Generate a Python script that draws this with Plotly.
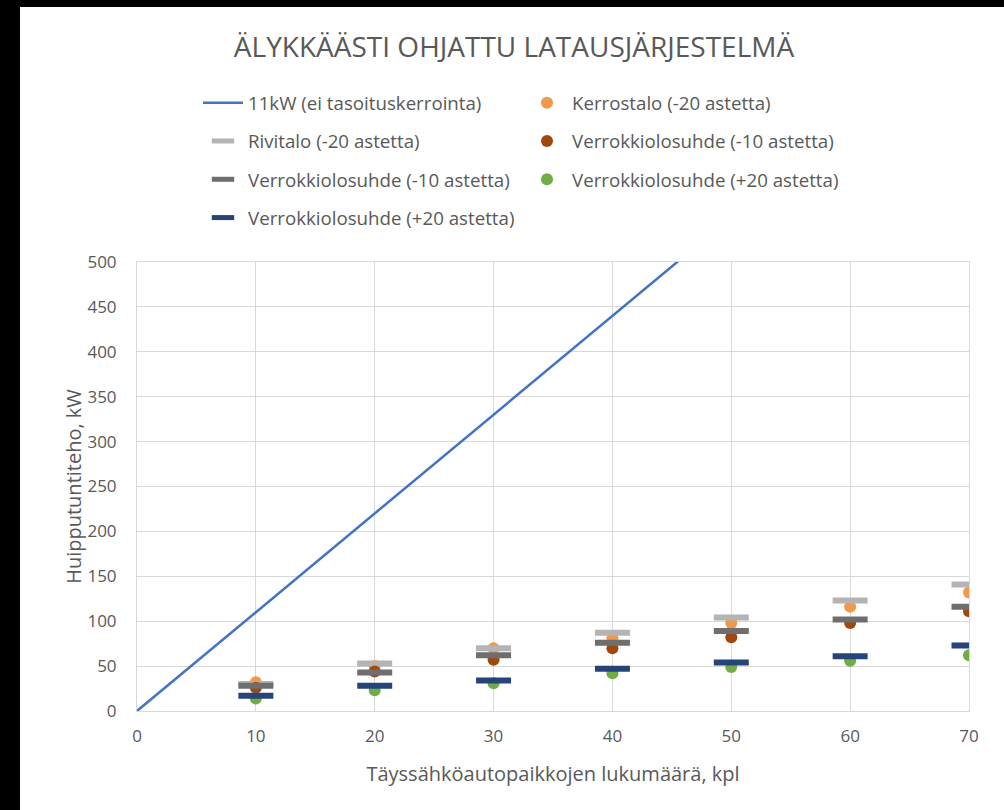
import plotly.graph_objects as go

# ---- data ----
x_line = [0, 10, 20, 30, 40, 50, 60, 70]
y_line_11kw = [0, 110, 220, 330, 440, 550, 660, 770]

x_cars = [10, 20, 30, 40, 50, 60, 70]
kerrostalo_m20 = [32, 50, 70, 81, 98, 116, 132]
rivitalo_m20 = [30, 53, 70, 87, 104, 123, 141]
verrokki_m10_dot = [26, 44, 57, 70, 82, 98, 111]
verrokki_m10_dash = [28, 43, 62, 76, 89, 102, 116]
verrokki_p20_dot = [14, 23, 31, 42, 49, 56, 62]
verrokki_p20_dash = [17, 28, 34, 47, 54, 61, 73]

names = {
    "line": "11kW (ei tasoituskerrointa)",
    "kerros": "Kerrostalo (-20 astetta)",
    "rivi": "Rivitalo (-20 astetta)",
    "v10": "Verrokkiolosuhde (-10 astetta)",
    "v20": "Verrokkiolosuhde (+20 astetta)",
}

TXT = "#595959"
GRID = "#D9D9D9"
FONT = "Open Sans"

fig = go.Figure()

fig.add_trace(go.Scatter(x=x_line, y=y_line_11kw, mode="lines", name=names["line"],
                         line=dict(color="#4472C4", width=2.5),
                         legend="legend", legendgroup="g1"))

def dot(x, y, name, color, grp):
    return go.Scatter(x=x, y=y, mode="markers", name=name,
                      marker=dict(symbol="circle", size=12, color=color),
                      legend="legend2", legendgroup=grp)

def dash(x, y, name, color, grp):
    return go.Scatter(x=x, y=y, mode="markers", name=name,
                      marker=dict(symbol="line-ew", size=25, color=color,
                                  line=dict(color=color, width=6)),
                      legend="legend", legendgroup=grp)

fig.add_trace(dot(x_cars, kerrostalo_m20, names["kerros"], "#F0994A", "h1"))
fig.add_trace(dash(x_cars, rivitalo_m20, names["rivi"], "#B4B4B4", "g2"))
fig.add_trace(dot(x_cars, verrokki_m10_dot, names["v10"], "#9E480E", "h2"))
fig.add_trace(dash(x_cars, verrokki_m10_dash, names["v10"], "#6E6E6E", "g3"))
fig.add_trace(dot(x_cars, verrokki_p20_dot, names["v20"], "#70AD47", "h3"))
fig.add_trace(dash(x_cars, verrokki_p20_dash, names["v20"], "#264478", "g4"))

W, H = 1004, 810
ML, MR, MT, MB = 137, 35, 262, 99
pw, ph = W - ML - MR, H - MT - MB

def px2x(p):
    return (p - ML) / pw

def px2y(p):
    return (H - MB - p) / ph

legend_common = dict(bgcolor="rgba(0,0,0,0)", font=dict(family=FONT, size=18.7, color=TXT),
                     orientation="v", yanchor="top", xanchor="left",
                     tracegroupgap=11, itemwidth=40, itemsizing="trace")

fig.update_layout(
    width=W, height=H,
    margin=dict(l=ML, r=MR, t=MT, b=MB),
    paper_bgcolor="white", plot_bgcolor="white",
    font=dict(family=FONT, color=TXT),
    title=dict(text="ÄLYKKÄÄSTI OHJATTU LATAUSJÄRJESTELMÄ",
               font=dict(family=FONT, size=28, color=TXT),
               x=514 / W, xanchor="center", y=1 - 47 / H, yanchor="middle"),
    legend=dict(x=px2x(198), y=px2y(84), **legend_common),
    legend2=dict(x=px2x(522), y=px2y(84), **legend_common),
    xaxis=dict(range=[0, 70], dtick=10, tick0=0, showgrid=True, gridcolor=GRID, gridwidth=1,
               zeroline=False, showline=True, linecolor=GRID, linewidth=1, mirror=True,
               ticks="", tickfont=dict(family=FONT, size=17, color=TXT), ticklabelstandoff=10,
               title=dict(text="Täyssähköautopaikkojen lukumäärä, kpl",
                          font=dict(family=FONT, size=20, color=TXT), standoff=20)),
    yaxis=dict(range=[0, 500], dtick=50, tick0=0, showgrid=True, gridcolor=GRID, gridwidth=1,
               zeroline=False, showline=True, linecolor=GRID, linewidth=1, mirror=True,
               ticks="", tickfont=dict(family=FONT, size=17, color=TXT), ticklabelstandoff=16,
               title=dict(text="Huipputuntiteho, kW",
                          font=dict(family=FONT, size=20, color=TXT), standoff=0)),
    showlegend=True,
)

# black frame strips of the screenshot (left and top)
fig.add_shape(type="rect", xref="paper", yref="paper", layer="above",
              x0=px2x(-5), x1=px2x(20), y0=px2y(H + 5), y1=px2y(-5),
              fillcolor="black", line=dict(width=0))
fig.add_shape(type="rect", xref="paper", yref="paper", layer="above",
              x0=px2x(-5), x1=px2x(W + 5), y0=px2y(7), y1=px2y(-5),
              fillcolor="black", line=dict(width=0))

fig.write_html("out.html", config={"displayModeBar": False},
               post_script="document.body.style.margin='0';document.body.style.overflow='hidden';")
